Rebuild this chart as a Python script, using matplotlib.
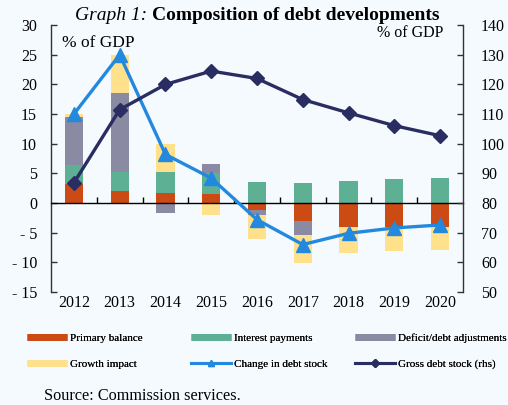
import numpy as np
import matplotlib
matplotlib.use("Agg")
import matplotlib.pyplot as plt
from matplotlib.lines import Line2D
from matplotlib.ticker import FuncFormatter

plt.rcParams['font.family'] = ['Liberation Serif', 'DejaVu Serif']

# Data (% of GDP)
years = ['2012', '2013', '2014', '2015', '2016', '2017', '2018', '2019', '2020']
primary_balance = [3.2, 2.0, 1.7, 1.6, -1.1, -3.0, -4.1, -4.1, -4.1]
interest_payments = [3.2, 3.3, 3.5, 3.5, 3.6, 3.4, 3.8, 4.0, 4.3]
deficit_debt_adj = [8.1, 13.2, -1.6, 1.5, -0.9, -2.4, 0.0, 0.0, 0.0]
growth_impact = [0.5, 6.5, 4.7, -2.1, -4.1, -4.7, -4.4, -4.0, -3.8]
change_in_debt = [15.0, 25.0, 8.2, 4.2, -2.8, -7.0, -5.1, -4.2, -3.7]
gross_debt = [86.8, 111.5, 120.0, 124.5, 122.0, 114.9, 110.4, 106.1, 102.7]

bg = '#F5FAFE'
c_primary = '#CC4A14'
c_interest = '#5DB094'
c_dda = '#8A8AA2'
c_growth = '#FFE18C'
c_change = '#2389DE'
c_gross = '#2A2D62'
spine_col = '#333333'

fig = plt.figure(figsize=(5.08, 4.05), dpi=100, facecolor=bg)
ax = fig.add_axes([0.1004, 0.279, 0.811, 0.659], facecolor=bg)

x = np.arange(len(years))
width = 0.4
pos_base = np.zeros(len(years))
neg_base = np.zeros(len(years))
components = [
    (primary_balance, c_primary, 'Primary balance'),
    (interest_payments, c_interest, 'Interest payments'),
    (deficit_debt_adj, c_dda, 'Deficit/debt adjustments'),
    (growth_impact, c_growth, 'Growth impact'),
]
for vals, col, lab in components:
    v = np.array(vals)
    pos = np.where(v > 0, v, 0)
    neg = np.where(v < 0, v, 0)
    ax.bar(x, pos, width, bottom=pos_base, color=col, edgecolor='none', zorder=2)
    ax.bar(x, neg, width, bottom=neg_base, color=col, edgecolor='none', zorder=2)
    pos_base += pos
    neg_base += neg

ax.set_xlim(-0.5, len(years) - 0.5)
ax.set_ylim(-15, 30)
ax.set_yticks(np.arange(-15, 31, 5))
ax.yaxis.set_major_formatter(FuncFormatter(lambda v, p: f"- {abs(int(v))}" if v < 0 else f"{int(v)}"))
ax.tick_params(axis='y', direction='in', length=4, width=1, color=spine_col,
               labelsize=11.5, pad=10)

# category axis at zero
ax.spines['bottom'].set_position(('data', 0))
ax.spines['bottom'].set_color('black')
ax.spines['bottom'].set_linewidth(1)
ax.spines['top'].set_visible(False)
ax.spines['right'].set_visible(False)
ax.spines['left'].set_color(spine_col)
ax.spines['left'].set_linewidth(1)
ax.set_xticks([])
ax.set_xticks(x[:-1] + 0.5, minor=True)
ax.tick_params(axis='x', which='minor', direction='in', length=4, width=1, color='black')
for xi, yr in zip(x, years):
    ax.text(xi, -0.012, yr, transform=ax.get_xaxis_transform(), ha='center', va='top', fontsize=11.5)

ax2 = ax.twinx()
ax2.set_ylim(50, 140)
ax2.set_yticks(np.arange(50, 141, 10))
ax2.tick_params(axis='y', direction='in', length=4, width=1, color=spine_col,
                labelsize=11.5, pad=13)
for s in ['top', 'bottom', 'left']:
    ax2.spines[s].set_visible(False)
ax2.spines['right'].set_color(spine_col)
ax2.spines['right'].set_linewidth(1)

# change in debt stock on left scale, drawn above bars
ax2.plot(x, np.array(change_in_debt) * 2 + 80, color=c_change, lw=2.4, marker='^',
         markersize=10, zorder=3)
ax2.plot(x, gross_debt, color=c_gross, lw=2.4, marker='D', markersize=7.5, zorder=4)

fig.text(0.123, 0.895, '% of GDP', fontsize=12.5, ha='left', va='center')
fig.text(0.873, 0.918, '% of GDP', fontsize=11.5, ha='right', va='center')

fig.text(0.289, 0.961, 'Graph 1:', fontsize=14, style='italic', ha='right', va='center')
fig.text(0.300, 0.961, 'Composition of debt developments', fontsize=14, weight='bold',
         ha='left', va='center')

# legend: three columns placed individually
cols = [
    [(Line2D([], [], color=c_primary, lw=5, solid_capstyle='butt'), 'Primary balance'),
     (Line2D([], [], color=c_growth, lw=5, solid_capstyle='butt'), 'Growth impact')],
    [(Line2D([], [], color=c_interest, lw=5, solid_capstyle='butt'), 'Interest payments'),
     (Line2D([], [], color=c_change, lw=2.2, marker='^', markersize=5), 'Change in debt stock')],
    [(Line2D([], [], color=c_dda, lw=5, solid_capstyle='butt'), 'Deficit/debt adjustments'),
     (Line2D([], [], color=c_gross, lw=2.2, marker='D', markersize=4), 'Gross debt stock (rhs)')],
]
for xf, items in zip([0.053, 0.376, 0.699], cols):
    leg = fig.legend([h for h, _ in items], [l for _, l in items], loc='upper left',
                     bbox_to_anchor=(xf, 0.178), frameon=False, fontsize=8,
                     handlelength=3.6, handletextpad=0.3, labelspacing=1.45,
                     borderpad=0, borderaxespad=0)
    fig.add_artist(leg)

fig.text(0.087, 0.022, 'Source: Commission services.', fontsize=11.7, ha='left', va='center')

fig.savefig('out.png', dpi=100, facecolor=bg)
